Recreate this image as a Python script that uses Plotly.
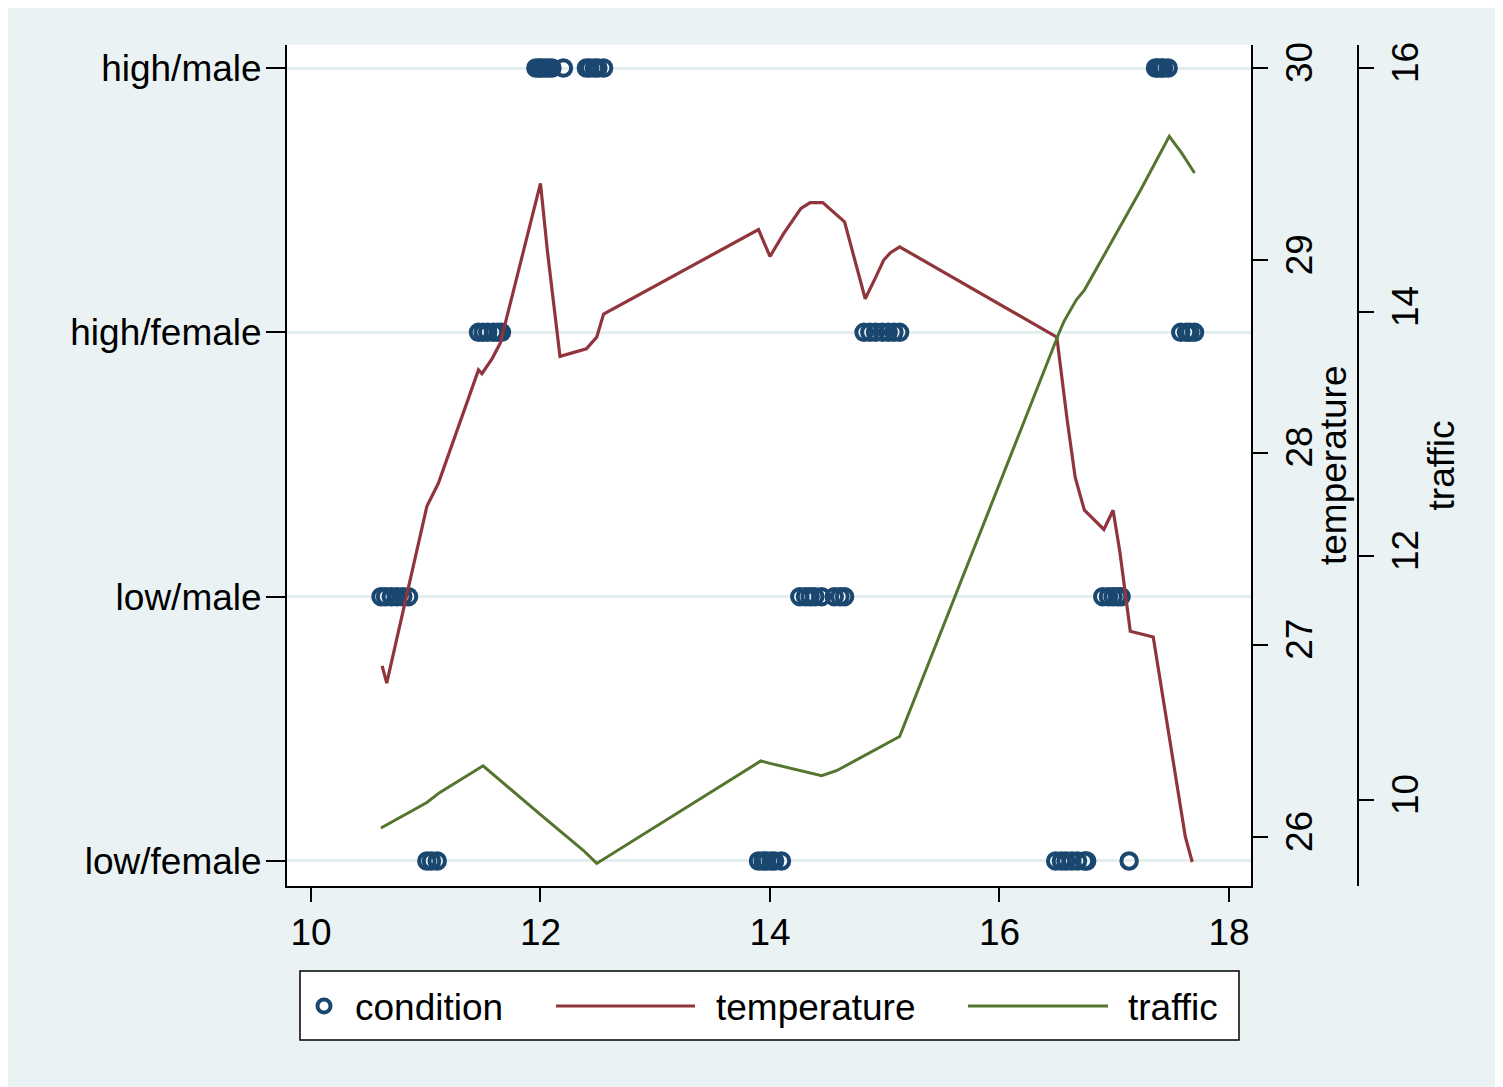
import plotly.graph_objects as go

# ---------------- data ----------------
categories = ["low/female", "low/male", "high/female", "high/male"]

high_male_time = [11.96, 11.99, 12.01, 12.04, 12.07, 12.10, 12.20, 12.40, 12.43, 12.47, 12.50, 12.55,
                  17.36, 17.38, 17.41, 17.43, 17.47]
high_female_time = [11.46, 11.50, 11.54, 11.59, 11.63, 11.66, 14.82, 14.87, 14.92, 14.98, 15.03, 15.08,
                    15.13, 17.58, 17.63, 17.66, 17.70]
low_male_time = [10.61, 10.65, 10.70, 10.75, 10.80, 10.85, 14.26, 14.31, 14.35, 14.39, 14.45, 14.56,
                 14.61, 14.65, 16.90, 16.95, 16.99, 17.03, 17.06]
low_female_time = [11.01, 11.05, 11.10, 13.90, 13.94, 13.97, 14.01, 14.04, 14.10, 16.49, 16.54, 16.58,
                   16.63, 16.68, 16.74, 16.76, 17.13]

temp_time = [10.62, 10.66, 11.01, 11.11, 11.46, 11.49, 11.58, 11.65, 12.00, 12.06, 12.17, 12.40, 12.49,
             12.55, 13.90, 14.00, 14.12, 14.27, 14.35, 14.46, 14.65, 14.83, 14.92, 14.99, 15.05, 15.13,
             16.50, 16.56, 16.59, 16.66, 16.74, 16.91, 16.99, 17.05, 17.14, 17.34, 17.43, 17.62, 17.68]
temp_vals = [26.89, 26.80, 27.72, 27.84, 28.43, 28.41, 28.49, 28.57, 29.40, 29.05, 28.50, 28.54, 28.60,
             28.72, 29.16, 29.02, 29.14, 29.27, 29.30, 29.30, 29.20, 28.80, 28.91, 29.00, 29.04, 29.07,
             28.60, 28.29, 28.17, 27.87, 27.70, 27.60, 27.70, 27.48, 27.07, 27.04, 26.71, 26.00, 25.87]

traffic_time = [10.61, 11.01, 11.12, 11.50, 12.00, 12.37, 12.49, 12.61, 13.92, 14.00, 14.45, 14.58,
                15.06, 15.13, 16.52, 16.56, 16.67, 16.74, 16.92, 17.02, 17.23, 17.48, 17.59, 17.70]
traffic_vals = [9.77, 9.98, 10.06, 10.28, 9.88, 9.59, 9.48, 9.55, 10.32, 10.30, 10.20, 10.24,
                10.49, 10.52, 13.83, 13.92, 14.10, 14.18, 14.48, 14.65, 15.00, 15.44, 15.30, 15.14]

x_ticks = [10, 12, 14, 16, 18]
temp_ticks = [26, 27, 28, 29, 30]
traffic_ticks = [10, 12, 14, 16]

# ---------------- styling ----------------
NAVY = "#1A476F"
MAROON = "#90353B"
GREEN = "#55752F"
BG = "#EAF2F3"
GRID = "#E4EDEF"
FONT = "Liberation Sans, Arial, Helvetica, sans-serif"
FS = 37

W, H = 1503, 1087
OX, OY = 8, 8                      # page offset of the figure (body margin)
# layout positions given in page pixels
PL, PT, PB = 287, 45, 886          # plot region left / top / bottom
PR_PLOT = 1251                     # plot region right edge
PR_PAPER = 1380                    # right edge of paper area
L = PL - OX
T = PT - OY
B = H - (PB - OY)
R = W - (PR_PAPER - OX)
pw = PR_PAPER - PL
ph = PB - PT


def px_x(p):
    return (p - PL) / pw


def px_y(p):
    return (PB - p) / ph


cond_x = high_male_time + high_female_time + low_male_time + low_female_time
cond_y = (["high/male"] * len(high_male_time) + ["high/female"] * len(high_female_time)
          + ["low/male"] * len(low_male_time) + ["low/female"] * len(low_female_time))

fig = go.Figure()
fig.add_trace(go.Scatter(
    x=cond_x, y=cond_y, mode="markers", name="condition",
    marker=dict(symbol="circle-open", size=15.5, color=NAVY, line=dict(width=4, color=NAVY)),
    xaxis="x", yaxis="y", showlegend=False))
fig.add_trace(go.Scatter(
    x=temp_time, y=temp_vals, mode="lines", name="temperature",
    line=dict(color=MAROON, width=3.2), xaxis="x", yaxis="y2", showlegend=False))
fig.add_trace(go.Scatter(
    x=traffic_time, y=traffic_vals, mode="lines", name="traffic",
    line=dict(color=GREEN, width=3), xaxis="x", yaxis="y3", showlegend=False))

axis_common = dict(showline=True, linecolor="black", linewidth=2, ticks="outside",
                   tickcolor="black", tickwidth=2, zeroline=False,
                   tickfont=dict(family=FONT, size=FS, color="black"))

fig.update_layout(
    width=W, height=H,
    margin=dict(l=L, r=R, t=T, b=B, autoexpand=False),
    paper_bgcolor=BG, plot_bgcolor="white",
    font=dict(family=FONT, size=FS, color="black"),
    showlegend=False,
    xaxis=dict(domain=[0, px_x(PR_PLOT)], range=[9.791, 18.192], tickvals=x_ticks,
               ticklen=14, showgrid=False, ticklabelstandoff=-1, **axis_common),
    yaxis=dict(type="category", categoryorder="array", categoryarray=categories,
               range=[-0.0946, 3.087], ticklen=19, showgrid=True, gridcolor=GRID, gridwidth=3,
               ticklabelstandoff=-3, **axis_common),
    yaxis2=dict(overlaying="y", side="right", anchor="x", range=[25.745, 30.12],
                tickvals=temp_ticks, ticklen=15, tickangle=-90, showgrid=False,
                **axis_common),
    yaxis3=dict(overlaying="y", side="right", anchor="free", position=px_x(1358),
                range=[9.295, 16.189], tickvals=traffic_ticks, ticklen=15, tickangle=-90,
                showgrid=False,
                title=dict(text="traffic", font=dict(family=FONT, size=FS), standoff=2),
                **axis_common),
)

# title of the temperature axis (placed as text next to its axis)
fig.add_annotation(x=px_x(1333), y=px_y(465), xref="paper", yref="paper", text="temperature",
                   textangle=-90, showarrow=False, xanchor="center", yanchor="middle",
                   font=dict(family=FONT, size=FS, color="black"))

# ---------------- legend (drawn manually to match long line keys) ----------------
shapes = [
    dict(type="rect", xref="paper", yref="paper", x0=px_x(300), x1=px_x(1239),
         y0=px_y(1040), y1=px_y(971), fillcolor="white", line=dict(color="black", width=1.5),
         layer="above"),
    dict(type="line", xref="paper", yref="paper", x0=px_x(556), x1=px_x(695),
         y0=px_y(1006), y1=px_y(1006), line=dict(color=MAROON, width=3), layer="above"),
    dict(type="line", xref="paper", yref="paper", x0=px_x(968), x1=px_x(1108),
         y0=px_y(1006), y1=px_y(1006), line=dict(color=GREEN, width=3), layer="above"),
    dict(type="circle", xref="paper", yref="paper", xsizemode="pixel", ysizemode="pixel",
         xanchor=px_x(324), yanchor=px_y(1006), x0=-6.5, x1=6.5, y0=-6.5, y1=6.5,
         line=dict(color=NAVY, width=4), fillcolor="rgba(0,0,0,0)", layer="above"),
]
fig.update_layout(shapes=shapes)

for txt, xp in [("condition", 353), ("temperature", 714), ("traffic", 1126)]:
    fig.add_annotation(x=px_x(xp), y=px_y(1007), xref="paper", yref="paper", text=txt,
                       showarrow=False, xanchor="left", yanchor="middle",
                       font=dict(family=FONT, size=FS, color="black"))

fig.write_html("out.html")
